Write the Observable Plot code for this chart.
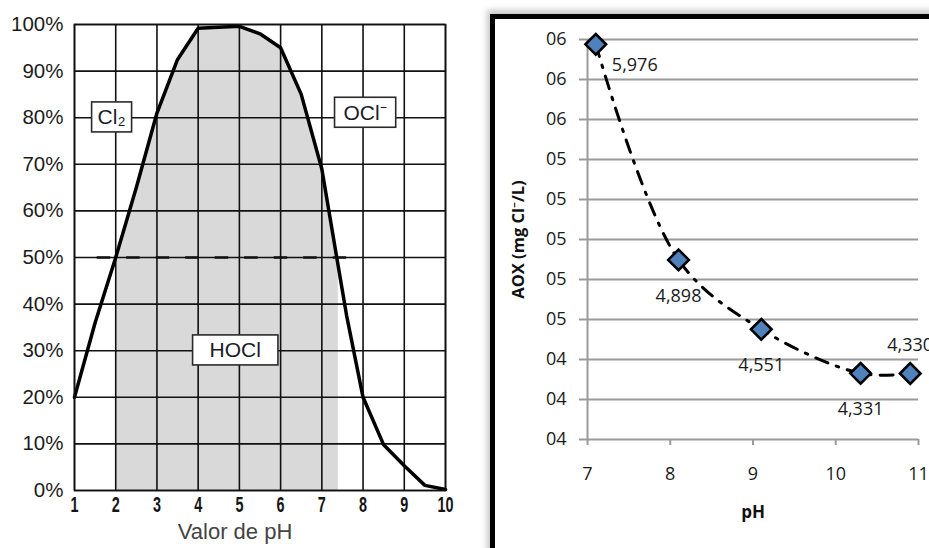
<!DOCTYPE html>
<html>
<head>
<meta charset="utf-8">
<script src="https://cdn.jsdelivr.net/npm/d3@7"></script>
<script src="https://cdn.jsdelivr.net/npm/@observablehq/plot@0.6"></script>
<style>
  html, body { margin: 0; padding: 0; background: #fff; }
  body { width: 929px; height: 548px; overflow: hidden; position: relative; }
  #left { position: absolute; left: 0; top: 0; }
  #right { position: absolute; left: 480px; top: 0; }
  #panel { position: absolute; left: 490px; top: 14px; width: 520px; height: 620px;
           border: 5px solid #000; box-shadow: -3px -4px 6px rgba(0,0,0,0.22); pointer-events: none; }
</style>
</head>
<body>
<div id="left"></div>
<div id="right"></div>
<div id="panel"></div>
<script>
// ---------- Left chart data: chlorine species distribution ----------
const phTicks = [1, 2, 3, 4, 5, 6, 7, 8, 9, 10];
const pctTicks = [0, 10, 20, 30, 40, 50, 60, 70, 80, 90, 100];
const curvePH  = [1, 1.5, 2, 2.5, 3, 3.5, 4, 4.5, 5, 5.5, 6, 6.5, 7, 7.4, 7.6, 8, 8.5, 9, 9.5, 10];
const curvePct = [20, 36, 50, 65, 81, 92.5, 99.2, 99.4, 99.6, 98, 95, 85, 69, 48, 37.6, 20, 9.8, 5.3, 1.1, 0.2];
const hoclRange = [2, 7.4];            // shaded HOCl zone (pH)
const halfLevel = [50];                // dashed 50 % line
const halfRange = [1.55, 7.62];        // its pH extent
const speciesLabels = ["Cl₂", "OCl⁻", "HOCl"];
const speciesPH  = [1.9, 8.05, 4.9];
const speciesPct = [80, 81, 30];
const leftXTitle = "Valor de pH";

// ---------- Right chart data: AOX vs pH ----------
const aoxPH    = [7.1, 8.1, 9.1, 10.3, 10.9];
const aoxValue = [5.976, 4.898, 4.551, 4.331, 4.330];
const aoxLabelSide = ["right", "below", "below", "below", "above"];
const aoxXTicks = [7, 8, 9, 10, 11];
const aoxYTicks = [4.0, 4.2, 4.4, 4.6, 4.8, 5.0, 5.2, 5.4, 5.6, 5.8, 6.0];
const aoxYTickLabels = ["04", "04", "04", "05", "05", "05", "05", "05", "06", "06", "06"];
const aoxYTitle = "AOX (mg Cl⁻/L)";
const aoxXTitle = "pH";

// ---------- build tables ----------
const curve = curvePH.map((ph, i) => ({ph, pct: curvePct[i]}));
const hoclArea = curve.filter(d => d.ph >= hoclRange[0] && d.ph <= hoclRange[1]);
const species = speciesLabels.map((t, i) => ({t, ph: speciesPH[i], pct: speciesPct[i]}));
const aox = aoxPH.map((ph, i) => ({ph, v: aoxValue[i], side: aoxLabelSide[i],
  label: aoxValue[i].toFixed(3).replace(".", ",")}));

const arial = "'Liberation Sans', Arial, sans-serif";
const calib = "'Open Sans', 'Noto Sans', sans-serif";

const left = Plot.plot({
  width: 460, height: 548,
  marginLeft: 74, marginRight: 15, marginTop: 24, marginBottom: 58,
  style: {fontFamily: arial, background: "transparent"},
  x: {domain: [1, 10]},
  y: {domain: [0, 100]},
  marks: [
    Plot.areaY(hoclArea, {x: "ph", y: "pct", fill: "#d9d9d9"}),
    Plot.ruleX(phTicks, {stroke: "#111", strokeWidth: 1.6}),
    Plot.ruleY(pctTicks, {stroke: "#111", strokeWidth: 1.6}),
    Plot.ruleY(halfLevel, {x1: halfRange[0], x2: halfRange[1], stroke: "#111", strokeWidth: 2.6, strokeDasharray: "13.5,16"}),
    Plot.line(curve, {x: "ph", y: "pct", stroke: "#000", strokeWidth: 3.5, strokeLinejoin: "round"}),
    Plot.frame({stroke: "#111", strokeWidth: 1.6}),
    Plot.axisX({ticks: phTicks, tickSize: 0, tickPadding: 5, label: null,
      fontSize: 20, fontWeight: "bold", fontFamily: arial, fill: "#151515"}),
    Plot.axisY({ticks: pctTicks, tickFormat: d => d + "%", tickSize: 0, tickPadding: 11, label: null,
      fontSize: 20.5, fill: "#1c1c1c"}),
    Plot.text(species, {x: "ph", y: "pct", text: "t", fontSize: 21, fill: "#1b1b28"}),
    Plot.text([leftXTitle], {text: d => d, frameAnchor: "bottom", dx: -25, dy: 48, fontSize: 22, fill: "#444"})
  ]
});
document.getElementById("left").append(left);

// condensed, tall look of the pH tick numbers
left.querySelectorAll('g[aria-label="x-axis tick label"] text').forEach(t => {
  const tr = t.getAttribute("transform") || "";
  t.setAttribute("transform", tr + " scale(0.72,1.15)");
});

// white boxes behind species labels, sized from the rendered text
const padX = {"Cl₂": 6, "OCl⁻": 9, "HOCl": 17};
left.querySelectorAll("text").forEach(t => {
  if (!speciesLabels.includes(t.textContent)) return;
  const b = t.getBBox();
  const r = document.createElementNS("http://www.w3.org/2000/svg", "rect");
  const px = padX[t.textContent];
  r.setAttribute("x", b.x - px);
  r.setAttribute("y", b.y + b.height / 2 - 15);
  r.setAttribute("width", b.width + 2 * px);
  r.setAttribute("height", 30);
  r.setAttribute("fill", "#fff");
  r.setAttribute("stroke", "#2a2a2a");
  r.setAttribute("stroke-width", 1.6);
  if (t.getAttribute("transform")) r.setAttribute("transform", t.getAttribute("transform"));
  t.parentNode.insertBefore(r, t);
});

const right = Plot.plot({
  width: 449, height: 548,
  marginLeft: 107, marginRight: 11, marginTop: 39, marginBottom: 109,
  style: {fontFamily: calib, background: "transparent"},
  x: {domain: [7, 11]},
  y: {domain: [4.0, 6.0]},
  marks: [
    Plot.ruleY(aoxYTicks, {stroke: "#9a9a9a", strokeWidth: 2}),
    Plot.ruleX([aoxXTicks[0]], {stroke: "#9a9a9a", strokeWidth: 2}),
    Plot.axisY({ticks: aoxYTicks, tickFormat: (d, i) => aoxYTickLabels[i], tickSize: 8, tickPadding: 13,
      stroke: "#9a9a9a", strokeWidth: 2, fill: "#1a1a1a", fontSize: 18, label: null}),
    Plot.axisX({ticks: aoxXTicks, tickFormat: d => String(d), tickSize: 6, tickPadding: 22,
      stroke: "#9a9a9a", strokeWidth: 2, fill: "#1a1a1a", fontSize: 18, label: null}),
    Plot.line(aox, {x: "ph", y: "v", curve: "catmull-rom", stroke: "#000", strokeWidth: 3, strokeDasharray: "13,9,2.5,9"}),
    Plot.dot(aox, {x: "ph", y: "v", symbol: "diamond2", r: 9.3, fill: "#4f81bd", stroke: "#000", strokeWidth: 2.6}),
    Plot.text(aox.filter(d => d.side === "right"), {x: "ph", y: "v", text: "label", dx: 39, dy: 21, fontSize: 18, fill: "#1a1a1a"}),
    Plot.text(aox.filter(d => d.side === "below"), {x: "ph", y: "v", text: "label", dy: 36, fontSize: 18, fill: "#1a1a1a"}),
    Plot.text(aox.filter(d => d.side === "above"), {x: "ph", y: "v", text: "label", dy: -28, fontSize: 18, fill: "#1a1a1a"}),
    Plot.text([aoxYTitle], {text: d => d, frameAnchor: "left", textAnchor: "middle", rotate: -90, dx: -69, fontSize: 16.5, fontWeight: "bold", fill: "#111"}),
    Plot.text([aoxXTitle], {text: d => d, frameAnchor: "bottom", dy: 78, fontSize: 17, fontWeight: "bold", fill: "#111"})
  ]
});
document.getElementById("right").append(right);
</script>
</body>
</html>
